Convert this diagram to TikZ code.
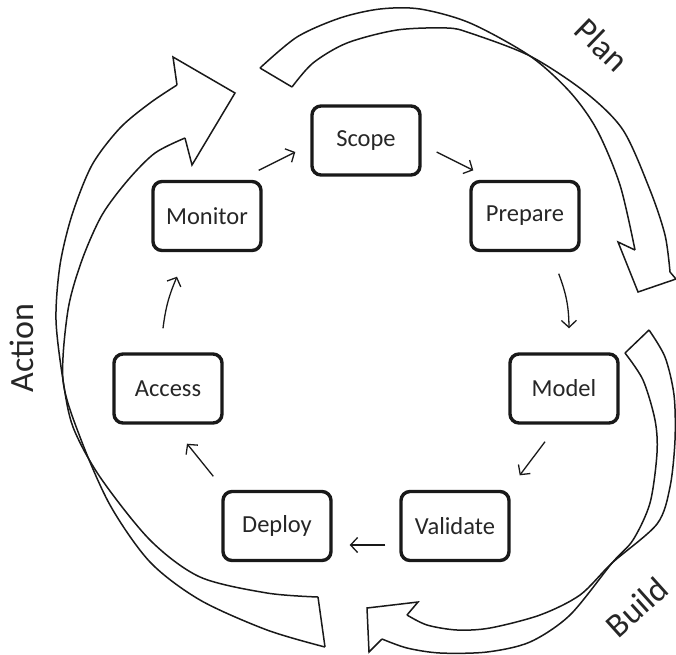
\documentclass[tikz,border=0pt]{standalone}
\usepackage{fontspec}
\setmainfont{Carlito}
\usetikzlibrary{arrows.meta,calc}
\begin{document}
\begin{tikzpicture}[x=1pt,y=-1pt,
  stepbox/.style={draw=black!90, line width=3.4pt, rounded corners=9pt, minimum width=108pt, minimum height=69pt, inner sep=0pt, font=\fontsize{24.5}{28}\selectfont, text=black!85},
  flow/.style={line width=1.3pt, black!90, -{Straight Barb[length=7pt,width=15pt]}},
  band/.style={line width=1.5pt, black!90, line join=miter},
  biglabel/.style={font=\fontsize{34}{40}\selectfont, text=black!85, inner sep=0pt}]
\useasboundingbox (0,0) rectangle (676,654);

% process steps
\node[stepbox] (scope)    at (366,140.5) {Scope};
\node[stepbox] (prepare)  at (525,216)   {Prepare};
\node[stepbox] (model)    at (564,388.5) {Model};
\node[stepbox] (validate) at (455,526)   {Validate};
\node[stepbox] (deploy)   at (277,526)   {Deploy};
\node[stepbox] (access)   at (168,388.5) {Access};
\node[stepbox] (monitor)  at (207,216)   {Monitor};

% connectors
\draw[flow] ([xshift=-4pt,yshift=9.5pt]monitor.north east) -- ([xshift=-15pt,yshift=-11.5pt]scope.west);
\draw[flow] ([xshift=15pt,yshift=-11.5pt]scope.east) -- ([xshift=4pt,yshift=9.5pt]prepare.north west);
\draw[flow] ([xshift=-22pt,yshift=-21.5pt]prepare.south east) to[bend left=10] ([xshift=5pt,yshift=24pt]model.north);
\draw[flow] ([xshift=-19pt,yshift=-17pt]model.south) -- ([xshift=9pt,yshift=14.5pt]validate.north east);
\draw[flow] ([xshift=-14pt,yshift=-19pt]validate.west) -- ([xshift=17pt,yshift=-19pt]deploy.east);
\draw[flow] ([xshift=-8pt,yshift=13.5pt]deploy.north west) -- ([xshift=19pt,yshift=-19pt]access.south);
\draw[flow] ([xshift=-5pt,yshift=24pt]access.north) to[bend left=8] ([xshift=-30pt,yshift=-24.5pt]monitor.south);

% Plan arrow
\draw[band] plot[smooth] coordinates {(260,68) (297,37) (340,18) (380,9) (420,9) (470,23) (530,56) (570,92) (597,130) (620,185) (635,250)};
\draw[band] plot[smooth] coordinates {(292,87) (313,63) (347,43) (397,30) (447,28) (470,33) (530,56) (585,92) (623,130) (650,190) (665,235) (670,272)};
\draw[band] (635,250) -- (618,242) -- (638,292) -- (676,279) -- (670,272);
\draw[band] (260,68) -- (292,87);

% Build arrow
\draw[band] plot[smooth] coordinates {(625,353) (643,380) (655,420) (657,453) (650,503) (633,540) (612,563) (570,615) (530,642) (487,652) (440,653) (407,648) (382,639)};
\draw[band] plot[smooth] coordinates {(649,330) (665,357) (674,395) (675,440) (670,487) (657,524) (612,563) (580,595) (540,615) (490,628) (457,630) (427,625) (407,615)};
\draw[band] (407,615) -- (418,602) -- (367,608) -- (369,652) -- (382,639);
\draw[band] (625,353) -- (649,330);

% Action arrow
\draw[band] plot[smooth] coordinates {(177,85) (150,103) (120,128) (92,165) (72,215) (60,265) (56,320) (63,380) (73,427) (100,477) (150,540) (200,577) (267,593) (318,597)};
\draw[band] plot[smooth] coordinates {(185,138) (155,153) (128,180) (102,215) (82,260) (68,310) (63,380) (80,437) (110,505) (150,562) (200,600) (267,630) (325,647)};
\draw[band] (177,85) -- (173,57) -- (235,93) -- (192,165) -- (185,138);
\draw[band] (318,597) -- (325,647);

% labels
\node[biglabel, rotate=-44] (plan) at (602,45) {Plan};
\node[biglabel, rotate=42] (build) at (637,607) {Build};
\node[biglabel, rotate=90] (action) at (22,348) {Action};
\end{tikzpicture}
\end{document}
